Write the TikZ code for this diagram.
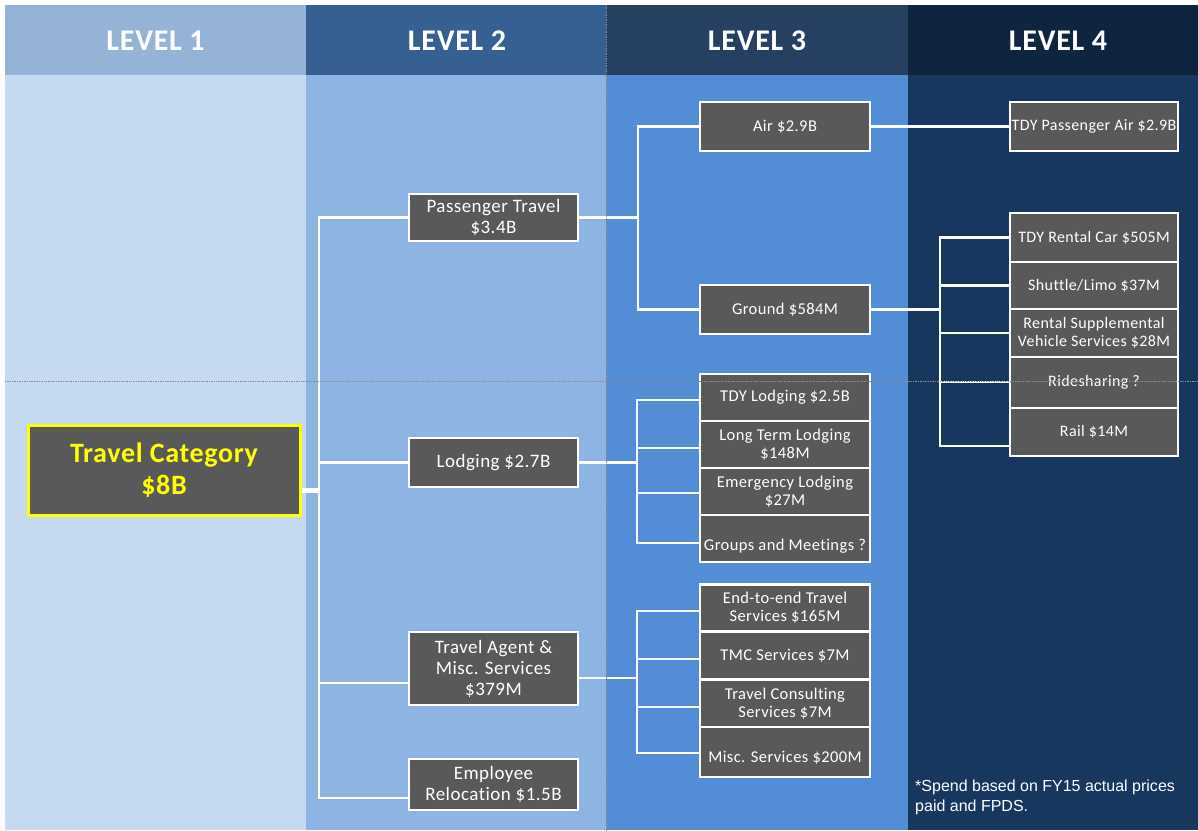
\documentclass[tikz,border=0pt]{standalone}
\usepackage{fontspec}
\setmainfont{Carlito}[RawFeature=-liga,LetterSpace=2.5]
\newfontfamily\notefont{Liberation Sans}
\usetikzlibrary{calc}
\definecolor{hdA}{HTML}{95B3D7}
\definecolor{bdA}{HTML}{C5D9F1}
\definecolor{hdB}{HTML}{366092}
\definecolor{bdB}{HTML}{8DB4E2}
\definecolor{hdC}{HTML}{254061}
\definecolor{bdC}{HTML}{538DD5}
\definecolor{hdD}{HTML}{0F243E}
\definecolor{bdD}{HTML}{17375E}
\definecolor{boxgray}{HTML}{595959}
\definecolor{hiyellow}{HTML}{FFFF00}
\pgfdeclarelayer{bg}
\pgfsetlayers{bg,main}
\begin{document}
\begin{tikzpicture}[x=1pt,y=-1pt,
  head/.style={text=white,font=\fontsize{30}{32}\bfseries\selectfont},
  cbox/.style={draw=white,line width=2.4pt,fill=boxgray,text=white,align=center,
    inner sep=1pt,minimum width=169pt,font=\fontsize{16.5}{18}\selectfont},
  lvtwo/.style={cbox,font=\fontsize{19}{21}\selectfont},
  lvthree/.style={cbox,minimum width=170pt},
  lvfour/.style={cbox,minimum width=168pt,inner sep=0.5pt,font=\fontsize{16}{18}\selectfont},
  rootbox/.style={draw=hiyellow,line width=3pt,fill=boxgray,text=hiyellow,align=center,
    minimum width=272pt,minimum height=90pt,font=\fontsize{28}{32}\bfseries\selectfont},
  conn/.style={draw=white,line width=2.8pt,line cap=rect},
  guide/.style={draw=black!45,line width=0.7pt,densely dotted}]

% canvas and level columns
\useasboundingbox (0,0) rectangle (1198,830);
\begin{pgfonlayer}{bg}
\fill[white] (0,0) rectangle (1198,830);
\fill[hdA] (5,5) rectangle (306,75);
\fill[bdA] (5,75) rectangle (306,830);
\fill[hdB] (306,5) rectangle (606,75);
\fill[bdB] (306,75) rectangle (606,830);
\fill[hdC] (606,5) rectangle (908,75);
\fill[bdC] (606,75) rectangle (908,830);
\fill[hdD] (908,5) rectangle (1198,75);
\fill[bdD] (908,75) rectangle (1198,830);
\end{pgfonlayer}

% column headings
\node[head] (h1) at (155.5,41) {LEVEL 1};
\node[head] (h2) at (457,41) {LEVEL 2};
\node[head] (h3) at (757,41) {LEVEL 3};
\node[head] (h4) at (1058,41) {LEVEL 4};

% level 1
\node[rootbox] (root) at (164,470) {Travel Category\\\$8B};

% level 2
\node[lvtwo,minimum height=47pt] (pass) at (493.5,217.5) {Passenger Travel\\\$3.4B};
\node[lvtwo,minimum height=49pt] (lodg) at (493.5,462.5) {Lodging \$2.7B};
\node[lvtwo,minimum height=73pt] (agent) at (493.5,668.5) {Travel Agent \&\\Misc. Services\\\$379M};
\node[lvtwo,minimum height=51pt] (empl) at (493.5,784.5) {Employee\\Relocation \$1.5B};

% level 3
\node[lvthree,minimum height=49pt] (air) at (785,126.5) {Air \$2.9B};
\node[lvthree,minimum height=49pt] (ground) at (785,309.5) {Ground \$584M};
\node[lvthree,minimum height=47pt] (tdyl) at (785,397.5) {TDY Lodging \$2.5B};
\node[lvthree,minimum height=47pt] (ltl) at (785,444.5) {Long Term Lodging\\\$148M};
\node[lvthree,minimum height=47pt] (eml) at (785,491.5) {Emergency Lodging\\\$27M};
\node[lvthree,minimum height=47pt] (grp) at (785,538.5) {\raisebox{-12pt}[0pt][0pt]{Groups and Meetings ?}};
\node[lvthree,minimum height=47pt] (e2e) at (785,608) {End-to-end Travel\\Services \$165M};
\node[lvthree,minimum height=48pt] (tmc) at (785,655.5) {TMC Services \$7M};
\node[lvthree,minimum height=47pt] (cons) at (785,703.5) {Travel Consulting\\Services \$7M};
\node[lvthree,minimum height=50pt] (misc) at (785,752) {\raisebox{-10pt}[0pt][0pt]{Misc. Services \$200M}};

% level 4
\node[lvfour,minimum height=49pt] (tdya) at (1094,126.5) {TDY Passenger Air \$2.9B};
\node[lvfour,minimum height=49pt] (rent) at (1094,237.5) {TDY Rental Car \$505M};
\node[lvfour,minimum height=47pt] (shut) at (1094,285.5) {Shuttle/Limo \$37M};
\node[lvfour,minimum height=48pt] (supp) at (1094,333) {Rental Supplemental\\Vehicle Services \$28M};
\node[lvfour,minimum height=51pt] (ride) at (1094,382.5) {Ridesharing ?};
\node[lvfour,minimum height=48pt] (rail) at (1094,432) {Rail \$14M};

% connectors
\begin{pgfonlayer}{bg}
% level 1 to level 2
\coordinate (t1) at (319,490);
\draw[conn,line width=5pt,line cap=butt] (root.east |- t1) -- (t1);
\draw[conn] (319,217.5) -- (319,798);
\draw[conn] (319,217.5) -- (pass.west);
\draw[conn] (319,462.5) -- (lodg.west);
\draw[conn] (319,683) -- (agent.west |- 0,683);
\draw[conn] (319,798) -- (empl.west |- 0,798);
% passenger travel
\draw[conn] (pass.east) -- (638,217.5);
\draw[conn] (638,126.5) -- (638,309.5);
\draw[conn] (638,126.5) -- (air.west);
\draw[conn] (638,309.5) -- (ground.west);
% lodging
\draw[conn] (lodg.east) -- (637,462.5);
\draw[conn] (637,400) -- (637,543);
\draw[conn] (637,400) -- (tdyl.west |- 0,400);
\draw[conn] (637,448) -- (ltl.west |- 0,448);
\draw[conn] (637,493) -- (eml.west |- 0,493);
\draw[conn] (637,543) -- (grp.west |- 0,543);
% travel agent and misc. services
\draw[conn] (agent.east |- 0,678) -- (637,678);
\draw[conn] (637,611) -- (637,753);
\draw[conn] (637,611) -- (e2e.west |- 0,611);
\draw[conn] (637,659) -- (tmc.west |- 0,659);
\draw[conn] (637,707) -- (cons.west |- 0,707);
\draw[conn] (637,753) -- (misc.west |- 0,753);
% air
\draw[conn] (air.east) -- (tdya.west);
% ground
\draw[conn] (ground.east) -- (940,309.5);
\draw[conn] (940,237.5) -- (940,446);
\draw[conn] (940,237.5) -- (rent.west);
\draw[conn] (940,285.5) -- (shut.west);
\draw[conn] (940,333) -- (supp.west);
\draw[conn] (940,382) -- (ride.west |- 0,382);
\draw[conn] (940,446) -- (rail.west |- 0,446);
\end{pgfonlayer}

% footnote
\node[anchor=north west,align=left,text=white,inner sep=0pt,
  font=\notefont\fontsize{16}{20}\selectfont] (note) at (915,780)
  {*Spend based on FY15 actual prices\\paid and FPDS.};

% dotted guide lines
\draw[guide] (5,381) -- (1198,381);
\draw[guide] (606,5) -- (606,830);
\end{tikzpicture}
\end{document}
